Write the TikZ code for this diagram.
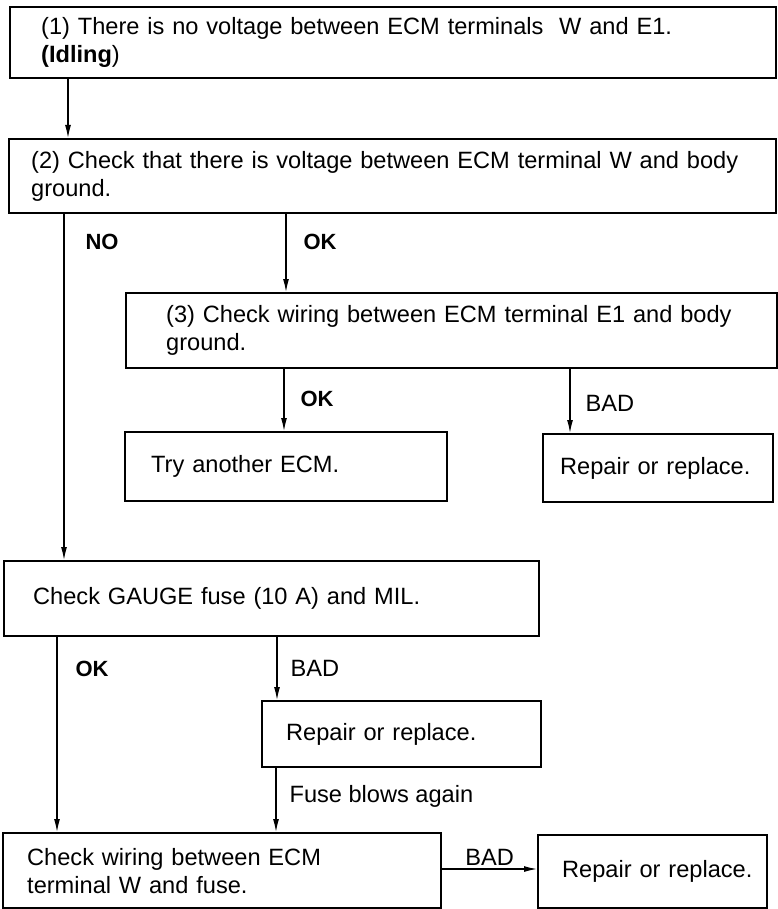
\documentclass[tikz,border=0pt]{standalone}
\usepackage{fontspec}
\setmainfont{Liberation Sans}
\usetikzlibrary{arrows.meta}

\begin{document}
\begin{tikzpicture}[x=1pt,y=-1pt,font=\fontsize{23.6}{28}\selectfont,box/.style={draw,line width=2.4pt,anchor=north west,align=left,inner xsep=0pt,inner ysep=0pt},lpad/.style={execute at begin node={\leftskip=#1}},flow/.style={line width=1.2pt,-{Latex[length=13pt,width=6pt]}},yes/.style={font=\fontsize{22}{26}\selectfont\bfseries,anchor=west,inner sep=0pt},lbl/.style={anchor=west,inner sep=0pt}]
\useasboundingbox (0,0) rectangle (777,909);
\node[box,lpad=31pt,text width=766pt,minimum height=71pt] (start) at (9,6) {(1) There is no voltage between ECM terminals~ W and E1.\\\textbf{(Idling})};
\node[box,lpad=22pt,text width=767pt,minimum height=74pt] (chkw) at (8,138) {(2) Check that there is voltage between ECM terminal W and body\\ground.};
\node[box,lpad=40pt,text width=651pt,minimum height=75pt] (chke) at (125,292) {(3) Check wiring between ECM terminal E1 and body\\ground.};
\node[box,lpad=26pt,text width=322pt,minimum height=69pt] (ecm) at (124,431) {Try another ECM.};
\node[box,lpad=17pt,text width=230pt,minimum height=68pt] (rep1) at (542,433) {Repair or replace.};
\node[box,lpad=29pt,text width=535pt,minimum height=75pt] (gauge) at (3,560) {Check GAUGE fuse (10 A) and MIL.};
\node[box,lpad=24pt,text width=279pt,minimum height=66pt] (rep2) at (261,700) {Repair or replace.};
\node[box,lpad=24pt,text width=438pt,minimum height=75pt] (wire) at (2,832) {Check wiring between ECM\\terminal W and fuse.};
\node[box,lpad=24pt,text width=229pt,minimum height=73pt] (rep3) at (537,834) {Repair or replace.};
% connectors
\draw[flow] (start.south -| 68,0) -- (chkw.north -| 68,0);
\draw[flow] (chkw.south -| 64,0) -- node[yes,pos=0.08,xshift=21pt] {NO} (gauge.north -| 64,0);
\draw[flow] (chkw.south -| 286,0) -- node[yes,pos=0.35,xshift=17pt] {OK} (chke.north -| 286,0);
\draw[flow] (chke.south -| 284,0) -- node[yes,pos=0.48,xshift=16pt] {OK} (ecm.north -| 284,0);
\draw[flow] (chke.south -| 570,0) -- node[lbl,pos=0.53,xshift=15pt] {BAD} (rep1.north -| 570,0);
\draw[flow] (gauge.south -| 57,0) -- node[yes,pos=0.16,xshift=18pt] {OK} (wire.north -| 57,0);
\draw[flow] (gauge.south -| 277,0) -- node[lbl,pos=0.49,xshift=13pt] {BAD} (rep2.north -| 277,0);
\draw[flow] (rep2.south -| 276,0) -- node[lbl,pos=0.44,xshift=13pt] {Fuse blows again} (wire.north -| 276,0);
\draw[flow] (wire.east |- 0,869) -- node[above=3pt,inner sep=0pt] {BAD} (rep3.west |- 0,869);
\end{tikzpicture}
\end{document}
